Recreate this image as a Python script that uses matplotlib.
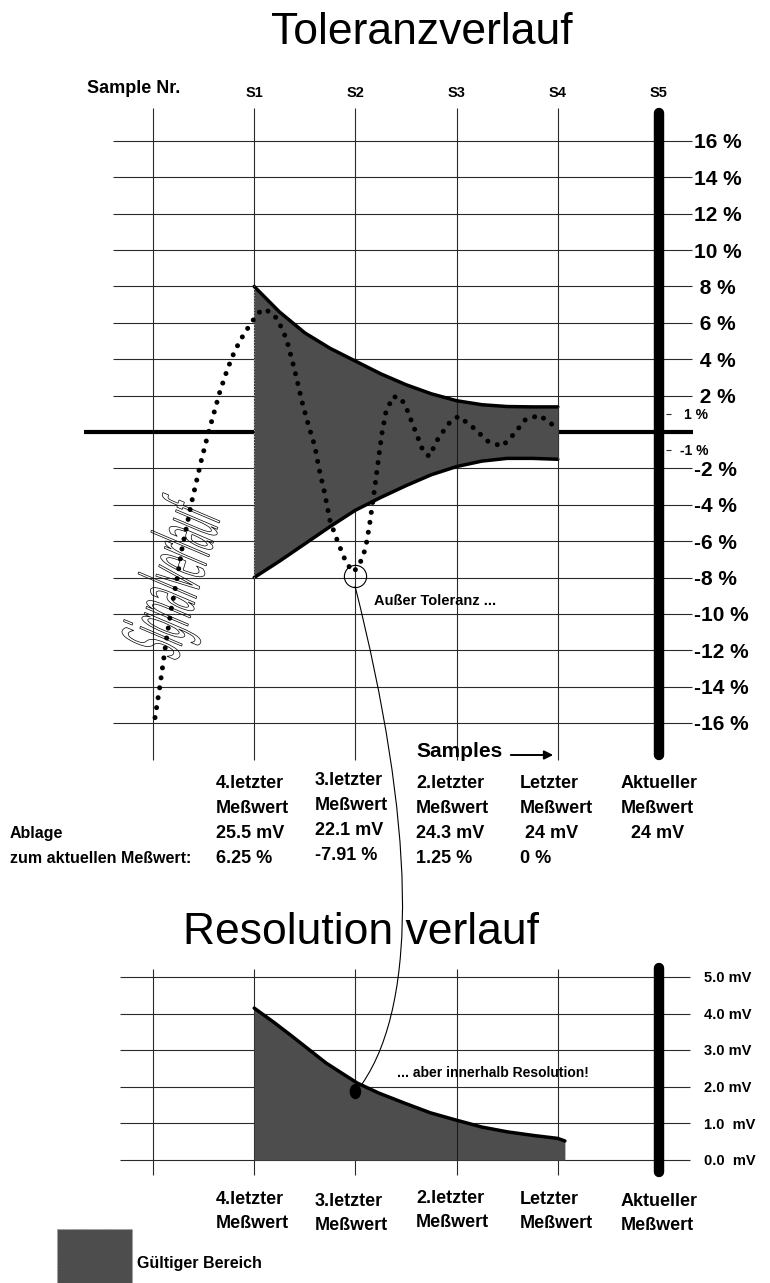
import numpy as np
import matplotlib
matplotlib.use('Agg')
import matplotlib.pyplot as plt
from matplotlib.patches import Rectangle, Ellipse, PathPatch, FancyArrowPatch
from matplotlib.path import Path
from matplotlib.textpath import TextPath
from matplotlib.font_manager import FontProperties
from matplotlib.transforms import Affine2D, ScaledTranslation, blended_transform_factory

plt.rcParams['font.family'] = ['Liberation Sans', 'DejaVu Sans']

# ---------------- data ----------------
sample_labels = ['S1', 'S2', 'S3', 'S4', 'S5']
tol_ticks = [16, 14, 12, 10, 8, 6, 4, 2, -2, -4, -6, -8, -10, -12, -14, -16]
tol_tick_labels = ['16 %', '14 %', '12 %', '10 %', ' 8 %', ' 6 %', ' 4 %', ' 2 %',
                   '-2 %', '-4 %', '-6 %', '-8 %', '-10 %', '-12 %', '-14 %', '-16 %']
small_ticks = [1, -1]
small_tick_labels = ['1 %', '-1 %']

env_x = [1.0, 1.25, 1.5, 1.75, 2.0, 2.25, 2.5, 2.75, 3.0, 3.25, 3.5, 3.75, 4.0]
env_upper = [8.0, 6.6, 5.45, 4.6, 3.9, 3.2, 2.6, 2.1, 1.72, 1.5, 1.4, 1.38, 1.38]
env_lower = [-8.0, -7.1, -6.15, -5.2, -4.3, -3.6, -2.95, -2.35, -1.9, -1.6, -1.45, -1.45, -1.5]

sig_x = [0.02, 0.07, 0.13, 0.18, 0.24, 0.29, 0.34, 0.38, 0.43, 0.48, 0.54, 0.60, 0.66,
         0.72, 0.78, 0.84, 0.90, 0.96, 1.02, 1.08, 1.16, 1.23, 1.32, 1.40, 1.48, 1.54,
         1.60, 1.64, 1.69, 1.75, 1.83, 1.91, 1.98, 2.04, 2.10, 2.14, 2.17, 2.20, 2.23,
         2.26, 2.30, 2.37, 2.45, 2.51, 2.60, 2.67, 2.73, 2.82, 2.94, 3.02, 3.15, 3.31,
         3.45, 3.56, 3.68, 3.82, 3.97]
sig_y = [-15.7, -13.9, -11.5, -9.75, -8.0, -6.3, -5.0, -3.9, -2.7, -1.5, -0.2, 1.0, 2.2,
         3.2, 4.1, 4.8, 5.4, 5.9, 6.4, 6.75, 6.6, 6.2, 5.1, 3.4, 1.5, 0.3,
         -0.8, -2.0, -3.2, -4.9, -6.1, -7.2, -7.7, -7.3, -6.4, -5.1, -3.9, -2.7, -1.4,
         -0.15, 1.05, 1.95, 1.87, 1.23, -0.06, -1.06, -1.34, -0.33, 0.59, 0.86, 0.31, -0.51,
         -0.79, -0.15, 0.68, 0.92, 0.31]

meas_names = ['4.letzter', '3.letzter', '2.letzter', 'Letzter', 'Aktueller']
meas_mv = ['25.5 mV', '22.1 mV', '24.3 mV', ' 24 mV', '  24 mV']
meas_dev = ['6.25 %', '-7.91 %', '1.25 %', '0 %']
dev_values = [6.25, -7.91, 1.25, 0.0]

res_ticks = [5, 4, 3, 2, 1, 0]
res_tick_labels = ['5.0 mV', '4.0 mV', '3.0 mV', '2.0 mV', '1.0  mV', '0.0  mV']
res_x = [1.0, 1.2, 1.37, 1.54, 1.71, 1.89, 2.02, 2.23, 2.48, 2.74, 2.97, 3.25, 3.5, 3.76, 4.0, 4.07]
res_y = [4.15, 3.75, 3.39, 3.02, 2.65, 2.33, 2.10, 1.83, 1.56, 1.29, 1.11, 0.90, 0.77, 0.67, 0.59, 0.52]
res_dot = (2.0, 1.87)

# ---------------- layout ----------------
W, H = 770, 1283
fig = plt.figure(figsize=(W / 100, H / 100), dpi=100)
fig.patch.set_facecolor('white')

X0, DX = 153.0, 101.2
FILL = '#4d4d4d'
GRID = '#2a2a2a'


def make_axes(xlim, ylim, y0px, dypx):
    l = X0 + DX * xlim[0]
    r = X0 + DX * xlim[1]
    t = y0px - dypx * ylim[1]
    b = y0px - dypx * ylim[0]
    ax = fig.add_axes([l / W, 1 - b / H, (r - l) / W, (b - t) / H])
    ax.set_xlim(xlim)
    ax.set_ylim(ylim)
    ax.axis('off')
    return ax


def capshift(size):
    return ScaledTranslation(0, -0.358 * size / 72, fig.dpi_scale_trans)


def ftext(x, yc, s, size, weight='bold', ha='left', **kw):
    fig.text(x / W, 1 - yc / H, s, fontsize=size, fontweight=weight, ha=ha,
             va='baseline', transform=fig.transFigure + capshift(size), **kw)


def atext(ax, x, y, s, size, weight='bold', ha='left'):
    ax.text(x, y, s, fontsize=size, fontweight=weight, ha=ha, va='baseline',
            transform=ax.transData + capshift(size), clip_on=False)


def px_to_x(px):
    return (px - X0) / DX


# ================= top chart =================
TY0, TDY = 432.0, 18.19
axT = make_axes((-0.8, 6.0), (-19, 19), TY0, TDY)
vt, vb = (TY0 - 108) / TDY, (TY0 - 760) / TDY

axT.vlines(range(5), vb, vt, color=GRID, lw=0.8, zorder=1)
axT.vlines([3], env_lower[8], env_upper[8], color='#1a1a1a', lw=0.8, zorder=2.5)
axT.plot([5, 5], [vt - 0.3, vb + 0.3], color='k', lw=7.5, solid_capstyle='round', zorder=6)
axT.hlines(tol_ticks, px_to_x(113), px_to_x(692), color=GRID, lw=0.8, zorder=1)
axT.hlines(small_ticks, px_to_x(666), px_to_x(671), color=GRID, lw=0.8, zorder=1)
axT.plot([px_to_x(84), px_to_x(693)], [0, 0], color='k', lw=3.0, zorder=1.5,
         solid_capstyle='butt')

axT.fill_between(env_x, env_lower, env_upper, color=FILL, lw=0, zorder=2)
axT.plot(env_x, env_upper, color='k', lw=2.5, zorder=3, solid_capstyle='round')
axT.plot(env_x, env_lower, color='k', lw=2.5, zorder=3, solid_capstyle='round')
axT.plot([env_x[0], env_x[0]], [env_lower[0], env_upper[0]], color='#aaaaaa', lw=0.8,
         ls=':', zorder=3)
axT.plot([env_x[-1], env_x[-1]], [env_lower[-1], env_upper[-1]], color='#333333', lw=0.8,
         zorder=3)

axT.plot(sig_x, sig_y, color='k', lw=3.6, ls=(0, (0.01, 2.0)), dash_capstyle='round',
         zorder=4)
axT.plot(2, dev_values[1], 'o', ms=16, mfc='none', mec='k', mew=0.8, zorder=5)

for t, lab in zip(tol_ticks, tol_tick_labels):
    atext(axT, px_to_x(694), t, lab, 15)
for t, lab in zip(small_ticks, small_tick_labels):
    atext(axT, px_to_x(708), t, lab, 10, ha='right')

trS = blended_transform_factory(axT.transData, fig.transFigure) + capshift(10.5)
for i, lab in enumerate(sample_labels):
    axT.text(i + 1, 1 - 92 / H, lab, fontsize=10.5, fontweight='bold', ha='center',
             va='baseline', transform=trS, clip_on=False)

ftext(422, 28, 'Toleranzverlauf', 32, weight='normal', ha='center')
ftext(87, 87, 'Sample Nr.', 13)
ftext(374, 600, 'Außer Toleranz ...', 10.5)
ftext(416, 750, 'Samples', 15)
fig.add_artist(FancyArrowPatch((508 / W, 1 - 755 / H), (556 / W, 1 - 755 / H),
                               transform=fig.transFigure, arrowstyle='-|>',
                               mutation_scale=13, lw=1.4, color='k'))

# handwritten "Signalverlauf"
tp = TextPath((0, 0), 'Signalverlauf', size=100,
              prop=FontProperties(family='DejaVu Sans'))
bb = tp.get_extents()
trH = (Affine2D().translate(-(bb.x0 + bb.x1) / 2, -(bb.y0 + bb.y1) / 2)
       .scale(150 / bb.width, 80 / bb.height).skew_deg(6, 0).rotate_deg(73)
       .translate(178, H - 580).scale(1 / W, 1 / H)) + fig.transFigure
fig.add_artist(PathPatch(tp, transform=trH, fc='none', ec='k', lw=0.5))

# ---- table under the top chart ----
col_left = [216, 315, 416, 520, 621]
col_dy = [0, -3, 0, 0, 0]
for i in range(5):
    ftext(col_left[i], 782 + col_dy[i], meas_names[i], 13)
    ftext(col_left[i], 807 + col_dy[i], 'Meßwert', 13)
    ftext(col_left[i], 832 + col_dy[i], meas_mv[i], 13)
for i in range(4):
    ftext(col_left[i], 857 + col_dy[i], meas_dev[i], 13)
ftext(10, 832, 'Ablage', 11.5)
ftext(10, 857, 'zum aktuellen Meßwert:', 11.5)

# ================= bottom chart =================
BY0, BDY = 1160.0, 36.6
axB = make_axes((-0.8, 6.0), (-1.0, 6.0), BY0, BDY)
bt, bbm = (BY0 - 969) / BDY, (BY0 - 1175) / BDY
axB.vlines(range(5), bbm, bt, color=GRID, lw=0.8, zorder=1)
axB.vlines([3], 0, res_y[10], color='#1a1a1a', lw=0.8, zorder=2.5)
axB.hlines(res_ticks, px_to_x(120), px_to_x(690), color=GRID, lw=0.8, zorder=1)
axB.plot([5, 5], [(BY0 - 968) / BDY, (BY0 - 1172) / BDY], color='k', lw=7.5,
         solid_capstyle='round', zorder=6)
axB.fill_between(res_x, 0, res_y, color=FILL, lw=0, zorder=2)
axB.plot(res_x, res_y, color='k', lw=2.5, zorder=3, solid_capstyle='round')
axB.add_patch(Ellipse(res_dot, 0.1, 0.38, color='k', zorder=5))
for t, lab in zip(res_ticks, res_tick_labels):
    atext(axB, px_to_x(704), t, lab, 10.5)

ftext(361, 928, 'Resolution verlauf', 32, weight='normal', ha='center')
ftext(397, 1072, '... aber innerhalb Resolution!', 10)

bcol_dy = [0, 2, -1, 0, 2]
for i in range(5):
    ftext(col_left[i], 1198 + bcol_dy[i], meas_names[i], 13)
    ftext(col_left[i], 1222 + bcol_dy[i], 'Meßwert', 13)

# legend
fig.add_artist(Rectangle((57 / W, 1 - 1286 / H), 75 / W, 57 / H, transform=fig.transFigure,
                         fc=FILL, ec='#999999', lw=0.8, ls=':'))
ftext(137, 1262, 'Gültiger Bereich', 11.5)

# connector from "Außer Toleranz" circle to resolution dot
pts = [(355, 586), (414, 820), (420, 1000), (362, 1084)]
conn = Path([(x / W, 1 - y / H) for x, y in pts],
            [Path.MOVETO, Path.CURVE4, Path.CURVE4, Path.CURVE4])
fig.add_artist(PathPatch(conn, transform=fig.transFigure, fc='none', ec='k', lw=0.8))

fig.savefig('out.png', dpi=100, facecolor='white')
